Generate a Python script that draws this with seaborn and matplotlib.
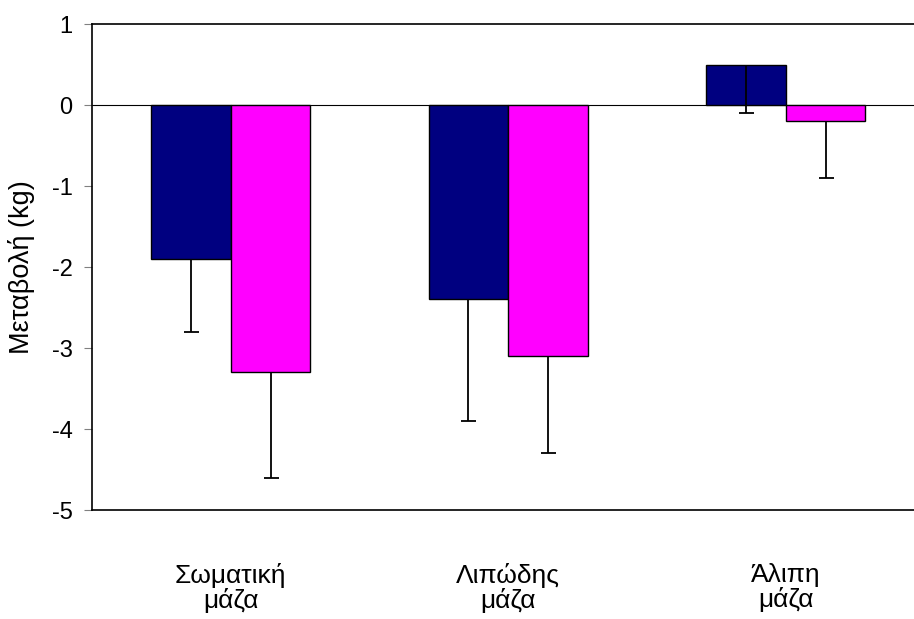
import matplotlib
matplotlib.use("Agg")
import matplotlib.pyplot as plt
import seaborn as sns
import pandas as pd
import numpy as np

# Change in body composition (kg) for two groups
categories = ["Σωματική\nμάζα", "Λιπώδης\nμάζα", "Άλιπη\nμάζα"]
groups = ["Ομάδα Α", "Ομάδα Β"]
values_a = [-1.9, -2.4, 0.5]
values_b = [-3.3, -3.1, -0.2]
errors_a = [0.9, 1.5, 0.6]
errors_b = [1.3, 1.2, 0.7]
y_ticks = [-5, -4, -3, -2, -1, 0, 1]
colors = ["#000080", "#FF00FF"]

df = pd.DataFrame({
    "category": categories * 2,
    "group": [groups[0]] * 3 + [groups[1]] * 3,
    "value": values_a + values_b,
})

sns.set_style("white")
plt.rcParams["font.family"] = ["Liberation Sans", "DejaVu Sans"]
plt.rcParams["text.color"] = "black"
plt.rcParams["axes.labelcolor"] = "black"
plt.rcParams["xtick.color"] = "black"
plt.rcParams["ytick.color"] = "black"

W, H = 914, 619
fig = plt.figure(figsize=(W / 100, H / 100), dpi=100)
ax = fig.add_axes([92 / W, 1 - 510 / H, (924.5 - 92) / W, 486 / H])

ax.axhline(0, color="black", lw=0.8, zorder=0.5)

sns.barplot(data=df, x="category", y="value", hue="group", palette=colors,
            order=categories, hue_order=groups, width=0.573, saturation=1,
            edgecolor="black", linewidth=1.0, legend=False, ax=ax, zorder=2)

# one-sided (downward) error bars at the centre of each bar, cap only at the bottom
for cont, vals, errs in zip(ax.containers, [values_a, values_b], [errors_a, errors_b]):
    xs = [b.get_x() + b.get_width() / 2 for b in cont]
    _, caps, _ = ax.errorbar(xs, vals, yerr=[errs, [0] * len(errs)], fmt="none",
                             ecolor="black", elinewidth=1.3, capsize=5.4,
                             capthick=1.3, zorder=3)
    for cap in caps:
        if np.allclose(cap.get_ydata(), vals):
            cap.set_visible(False)

ax.set_xlim(-0.5, 2.5)
ax.set_ylim(-5, 1)
ax.set_yticks(y_ticks)
ax.set_yticklabels([str(t) for t in y_ticks])
ax.set_xlabel("")
ax.set_ylabel("Μεταβολή (kg)", fontsize=19.5, labelpad=12)

ax.tick_params(axis="y", direction="out", length=6, width=0.8, color="#808080",
               labelcolor="black", labelsize=17, pad=8, left=True)
ax.tick_params(axis="x", length=0, labelsize=19, pad=38, labelcolor="black")
for lbl in ax.get_xticklabels():
    lbl.set_linespacing(1.0)
for s in ax.spines.values():
    s.set_visible(True)
    s.set_color("black")
    s.set_linewidth(1.2)

fig.savefig("out.png", dpi=100, facecolor="white")
